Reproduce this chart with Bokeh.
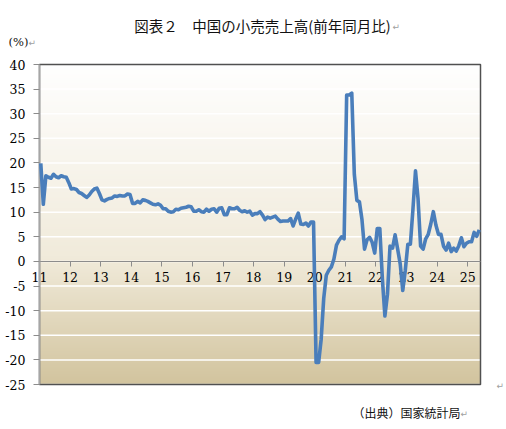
import numpy as np
from bokeh.plotting import figure
from bokeh.models import Range1d, FixedTicker, Label
from bokeh.embed import file_html
from bokeh.resources import INLINE

# texts
title_text = "図表２　中国の小売売上高(前年同月比)"
unit_text = "(%)"
source_text = "（出典）国家統計局"
mark = "↵"
year_labels = ["11", "12", "13", "14", "15", "16", "17", "18",
               "19", "20", "21", "22", "23", "24", "25"]
y_ticks = [-25, -20, -15, -10, -5, 0, 5, 10, 15, 20, 25, 30, 35, 40]

# monthly y/y % (Jan 2011 - May 2025)
y2011 = [19.9, 11.6, 17.4, 17.1, 16.9, 17.7, 17.2, 17.0, 17.4, 17.2, 17.1, 16.0]
y2012 = [14.7, 14.8, 14.6, 14.0, 13.8, 13.4, 13.0, 13.5, 14.2, 14.7, 14.9, 13.8]
y2013 = [12.5, 12.3, 12.6, 12.8, 12.9, 13.3, 13.2, 13.4, 13.3, 13.3, 13.7, 13.6]
y2014 = [11.8, 11.8, 12.2, 11.9, 12.5, 12.4, 12.2, 11.9, 11.6, 11.5, 11.7, 11.4]
y2015 = [10.7, 10.7, 10.2, 10.0, 10.1, 10.6, 10.5, 10.8, 10.9, 11.0, 11.2, 11.1]
y2016 = [10.2, 10.2, 10.5, 10.1, 10.0, 10.6, 10.2, 10.6, 10.7, 10.0, 10.8, 10.9]
y2017 = [9.5, 9.5, 10.9, 10.7, 10.7, 11.0, 10.4, 10.1, 10.3, 10.0, 10.2, 9.4]
y2018 = [9.7, 9.7, 10.1, 9.4, 8.5, 9.0, 8.8, 9.0, 9.2, 8.6, 8.1, 8.2]
y2019 = [8.2, 8.2, 8.7, 7.2, 8.6, 9.8, 7.6, 7.5, 7.8, 7.2, 8.0, 8.0]
y2020 = [-20.5, -20.5, -15.8, -7.5, -2.8, -1.8, -1.1, 0.5, 3.3, 4.3, 5.0, 4.6]
y2021 = [33.8, 33.8, 34.2, 17.7, 12.4, 12.1, 8.5, 2.5, 4.4, 4.9, 3.9, 1.7]
y2022 = [6.7, 6.7, -3.5, -11.1, -6.7, 3.1, 2.7, 5.4, 2.5, -0.5, -5.9, -1.8]
y2023 = [3.5, 3.5, 10.6, 18.4, 12.7, 3.1, 2.5, 4.6, 5.5, 7.6, 10.1, 7.4]
y2024 = [5.5, 5.5, 3.1, 2.3, 3.7, 2.0, 2.7, 2.1, 3.2, 4.8, 3.0, 3.7]
y2025 = [4.0, 4.0, 5.9, 5.1, 6.4]

values = (y2011 + y2012 + y2013 + y2014 + y2015 + y2016 + y2017 + y2018
          + y2019 + y2020 + y2021 + y2022 + y2023 + y2024 + y2025)
n = len(values)
xs = [i + 0.5 for i in range(n)]

# canvas and plot-area box in pixels
W, H = 504, 425
PL, PR, PT, PB = 39, 480, 64, 384
YMIN, YMAX = -25, 40
KX = (PR - PL) / n
KY = (PB - PT) / (YMAX - YMIN)


def dx(px):
    return (px - PL) / KX


def dy(py):
    return YMAX - (py - PT) / KY


# the frame fills the whole canvas so axes, labels and notes are never clipped
p = figure(width=W, height=H, x_range=Range1d(dx(0), dx(W)), y_range=Range1d(dy(H), dy(0)),
           output_backend="svg", toolbar_location=None, min_border=0,
           background_fill_color="white", border_fill_color="white")
p.outline_line_color = None

# background gradient (white at top -> parchment at bottom)
ny = PB - PT
t = 1 - (np.arange(ny) + 0.5) / ny
stops = [0.0, 0.6, 1.0]
img = np.empty((ny, 1), dtype=np.uint32)
view = img.view(dtype=np.uint8).reshape((ny, 1, 4))
view[:, 0, 0] = np.interp(t, stops, [255, 241, 210])
view[:, 0, 1] = np.interp(t, stops, [255, 235, 196])
view[:, 0, 2] = np.interp(t, stops, [255, 219, 158])
view[:, 0, 3] = 255
p.image_rgba(image=[img], x=0, y=YMIN, dw=n, dh=YMAX - YMIN, level="image")

# horizontal grid inside the plot area
p.xgrid.grid_line_color = None
p.ygrid.grid_line_color = None
p.segment(x0=0, x1=n, y0=y_ticks, y1=y_ticks, line_color="white", line_width=1.5,
          level="underlay")

# plot-area border
p.quad(left=0, right=n, bottom=YMIN, top=YMAX, fill_color=None,
       line_color="#505050", line_width=1.5)

p.line(xs, values, line_width=3.6, line_color="#4A7EBB", line_join="round", level="overlay")

p.yaxis.fixed_location = 0
p.yaxis.bounds = (YMIN, YMAX)
p.yaxis.ticker = FixedTicker(ticks=y_ticks)
p.yaxis.major_label_overrides = {v: str(v) for v in y_ticks}
p.yaxis.axis_line_color = "#A6A6A6"
p.yaxis.axis_line_width = 1.5
p.yaxis.major_tick_line_color = "#8C8C8C"
p.yaxis.major_tick_out = 6
p.yaxis.major_tick_in = 0
p.yaxis.minor_tick_line_color = None
p.yaxis.major_label_standoff = 8
p.yaxis.major_label_text_font = "DejaVu Serif"
p.yaxis.major_label_text_font_size = "12.5px"
p.yaxis.major_label_text_color = "black"

x_ticks = [12 * k for k in range(len(year_labels))]
p.xaxis.fixed_location = 0
p.xaxis.bounds = (0, n)
p.xaxis.ticker = FixedTicker(ticks=x_ticks)
p.xaxis.major_label_overrides = {v: lab for v, lab in zip(x_ticks, year_labels)}
p.xaxis.axis_line_color = "#8C8C8C"
p.xaxis.axis_line_width = 1.2
p.xaxis.major_tick_line_color = "#8C8C8C"
p.xaxis.major_tick_out = 5
p.xaxis.major_tick_in = 0
p.xaxis.minor_tick_line_color = None
p.xaxis.major_label_standoff = 6
p.xaxis.major_label_text_font = "DejaVu Serif"
p.xaxis.major_label_text_font_size = "12.5px"
p.xaxis.major_label_text_color = "black"


def note(text, px, py, font, size, color="#111111", align="left"):
    p.add_layout(Label(x=dx(px), y=dy(py), text=text, text_align=align,
                       text_baseline="middle", text_font=font,
                       text_font_size=size, text_color=color))


note(title_text, 262, 25, "Noto Sans CJK JP", "14.5px", align="center")
note(unit_text, 8, 41, "DejaVu Serif", "11.5px")
note(source_text, 352, 412, "Noto Sans CJK JP", "12px")
for mx, my in [(392, 26), (28, 42), (460, 413), (496, 385)]:
    note(mark, mx, my, "DejaVu Sans", "9px", color="#A0A0A0")

open("out.html", "w").write(file_html(p, INLINE))
